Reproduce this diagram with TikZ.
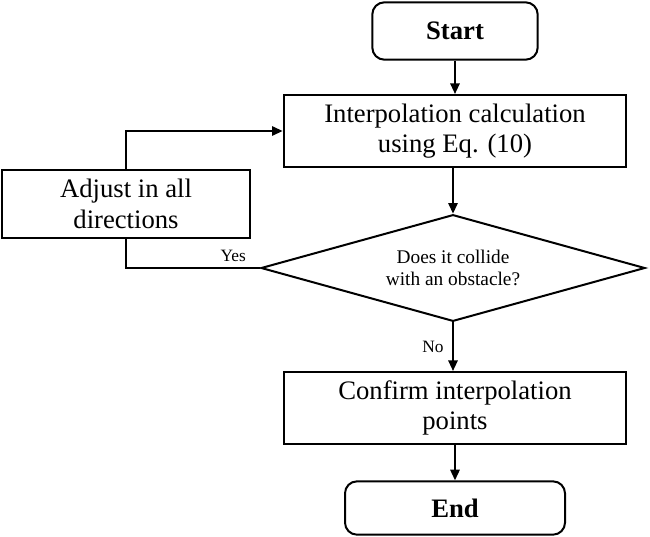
\documentclass[tikz,border=0pt]{standalone}
\usepackage{fontspec}
\setmainfont{Liberation Serif}
\usetikzlibrary{shapes.geometric,arrows.meta}
\begin{document}
\begin{tikzpicture}[x=0.75pt,y=-0.75pt,
  box/.style={draw,line width=1.5pt,minimum width=257pt,minimum height=54pt,align=center,font=\fontsize{20}{23}\selectfont},
  term/.style={draw,line width=1.5pt,rounded corners=9pt,font=\fontsize{20}{23}\selectfont\bfseries},
  flow/.style={line width=1.5pt,-{Triangle[length=8pt,width=7pt]}},
  tag/.style={font=\fontsize{13}{15}\selectfont}]
  \useasboundingbox (0,0) rectangle (650,536);
  \node[term,minimum width=124pt,minimum height=43pt] (start) at (455,31) {Start};
  \node[box] (interp) at (455,131) {Interpolation calculation\\using Eq. (10)};
  \node[box,minimum width=186pt,minimum height=51pt] (adjust) at (126,204) {Adjust in all\\directions};
  \node[draw,line width=1.5pt,diamond,aspect=3.6,minimum width=288pt,minimum height=80pt,inner sep=0pt,align=center,font=\fontsize{14.5}{17}\selectfont] (check) at (453,268) {Does it collide\\with an obstacle?};
  \node[box] (confirm) at (455,408) {Confirm interpolation\\points};
  \node[term,minimum width=165pt,minimum height=40pt] (end) at (455,508) {End};
  % connectors
  \draw[flow] (start) -- (interp);
  \draw[flow] (interp.south -| check.north) -- (check.north);
  \draw[flow] (check.south) -- (check.south |- confirm.north) node[tag,midway,left=3pt] {No};
  \draw[flow] (confirm) -- (end);
  \draw[line width=1.5pt] (check.west) -| (adjust.south) node[tag,pos=0.1,above=1pt] {Yes};
  \draw[flow] (adjust.north) |- (interp.west);
\end{tikzpicture}
\end{document}
